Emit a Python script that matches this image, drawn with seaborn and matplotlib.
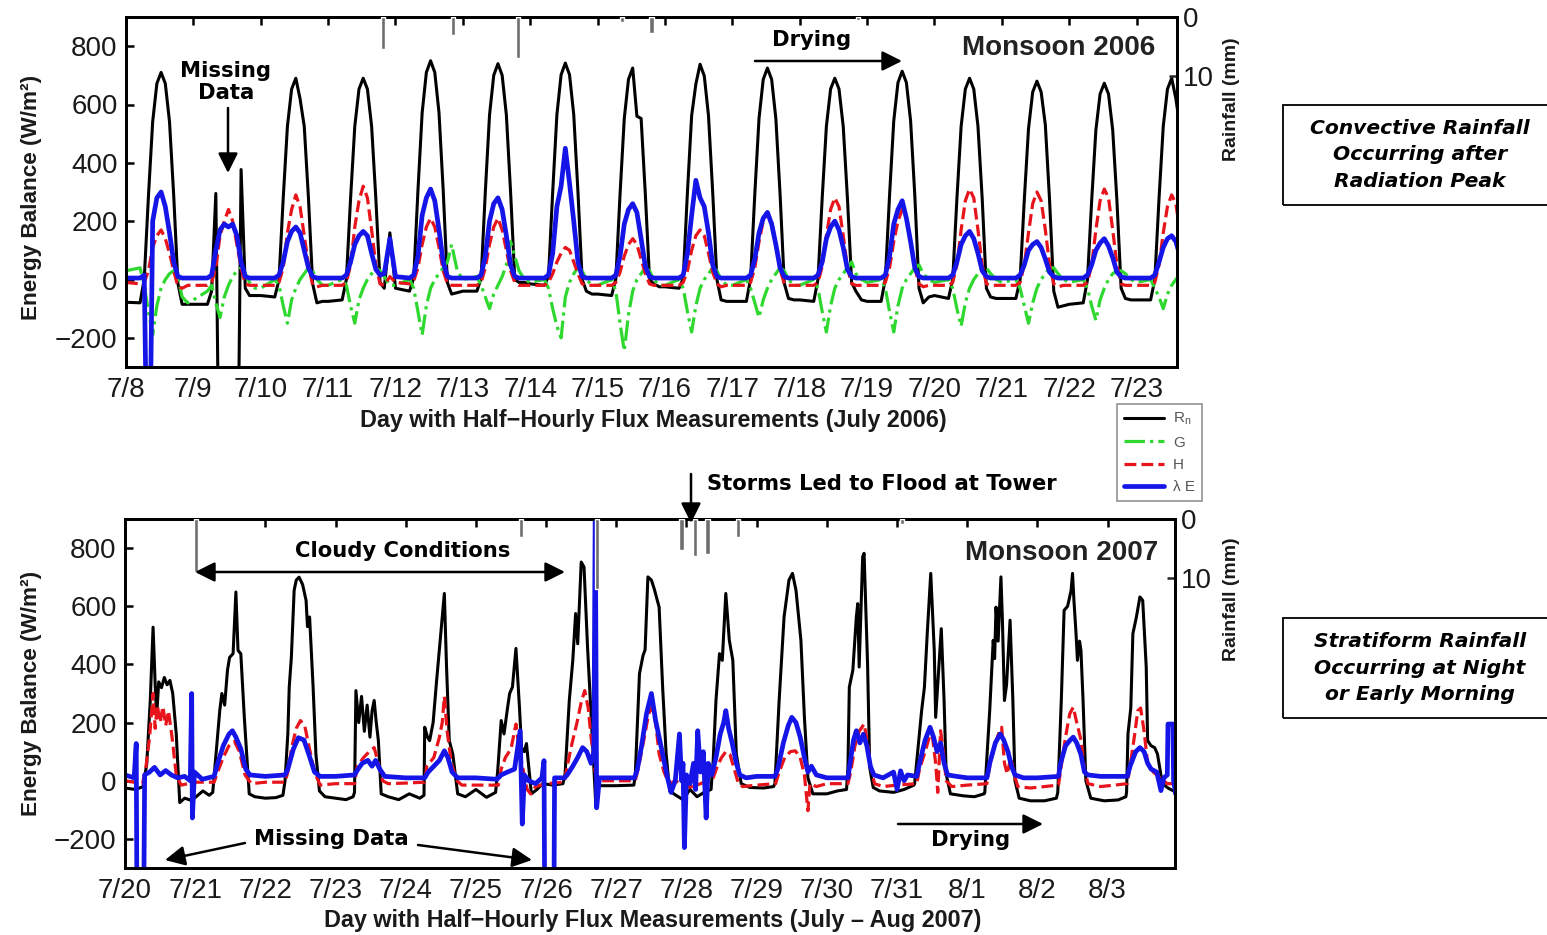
import matplotlib
matplotlib.use("Agg")
import matplotlib.pyplot as plt
from matplotlib.lines import Line2D
from matplotlib.patches import Rectangle, FancyArrowPatch
import pandas as pd
import seaborn as sns

# ------------------------------------------------------------------ data
# 2006 panel: values sampled at fixed local hours for each day (from 7/8)
HOURS06 = [0, 5, 6.5, 8, 9.5, 11, 12.5, 14, 15.5, 17, 18.5, 20, 22]
DATES06 = ['7/8', '7/9', '7/10', '7/11', '7/12', '7/13', '7/14', '7/15',
           '7/16', '7/17', '7/18', '7/19', '7/20', '7/21', '7/22', '7/23']
# -999 = flux-tower missing-data flag (drawn off scale, as in the original)

RN06 = [
    [-78, -80, 2, 287, 541, 672, 710, 672, 541, 287, -14, -85, -85],
    [-85, -85, -40, 295, -999, -999, -999, -999, -999, 377, -30, -55, -55],
    [-55, -60, 0, 278, 525, 653, 690, 620, 525, 278, -15, -80, -75],
    [-75, -70, 0, 278, 525, 653, 690, 653, 525, 278, -10, -30, 160],
    [-30, -40, 5, 305, 572, 710, 750, 710, 572, 305, -11, -50, -45],
    [-40, -40, 4, 300, 564, 700, 740, 700, 564, 300, 0, -10, -10],
    [-15, -20, 10, 300, 565, 702, 742, 702, 565, 300, 0, -40, -50],
    [-50, -55, 3, 293, 552, 686, 725, 560, 552, 293, 0, -15, -25],
    [-25, -30, 4, 299, 562, 670, 738, 698, 562, 299, 0, -70, -75],
    [-75, -75, 3, 293, 552, 686, 725, 686, 552, 293, -13, -65, -70],
    [-70, -75, 0, 278, 525, 653, 690, 653, 525, 278, -10, -40, -70],
    [-75, -75, 2, 288, 544, 675, 714, 675, 544, 288, -30, -80, -60],
    [-55, -65, 0, 278, 525, 653, 690, 653, 525, 278, -30, -60, -65],
    [-65, -65, -1, 273, 517, 643, 680, 643, 530, 273, -40, -95, -90],
    [-85, -80, -1, 270, 512, 636, 673, 636, 512, 270, -30, -65, -70],
    [-70, -70, 0, 278, 525, 653, 690, 620, 520, 278, -20, -60, -60],
]
G06 = [
    [30, 40, -20, -110, -190, -90, -30, 0, 20, 30, 10, -60, -80],
    [-70, -40, -20, -80, -130, -60, -20, 10, 30, 40, 20, -10, -30],
    [-30, 0, -20, -90, -150, -70, -30, 0, 20, 40, 30, 0, -20],
    [-20, 0, -20, -90, -150, -70, -30, 0, 20, 40, 30, 10, -20],
    [-20, 0, -30, -110, -190, -90, -30, 0, 20, 40, 60, 120, 30],
    [0, 10, -20, -60, -100, -50, -20, 10, 50, 130, 80, 30, 0],
    [-10, 0, -30, -100, -160, -200, -60, -10, 20, 40, 30, 0, -20],
    [-20, 0, -40, -150, -245, -120, -40, 0, 20, 40, 30, 0, -20],
    [-20, 0, -30, -110, -180, -90, -30, 0, 20, 40, 30, 0, -20],
    [-20, 0, -30, -80, -130, -70, -30, 0, 20, 40, 30, 0, -20],
    [-20, 0, -30, -110, -180, -90, -30, 0, 20, 40, 60, 20, 0],
    [-10, 0, -30, -110, -180, -90, -30, 0, 20, 40, 50, 20, 0],
    [-10, 0, -30, -100, -160, -80, -30, 0, 20, 40, 40, 20, 0],
    [-10, 0, -30, -90, -150, -80, -30, 0, 20, 40, 40, 20, 0],
    [-10, 0, -30, -90, -140, -70, -30, 0, 20, 30, 30, 20, 0],
    [-10, 0, -30, -60, -100, -50, -20, 0, 20, 30, 30, 20, 0],
]
H06 = [
    [-10, -15, -10, 30, 110, 150, 170, 140, 90, 30, -25, -30, -20],
    [-20, -20, -10, 40, 150, 200, 240, 200, 120, 40, -15, -20, -20],
    [-20, -20, -10, 40, 160, 240, 290, 250, 150, 50, -20, -25, -20],
    [-20, -20, -10, 50, 180, 270, 320, 280, 170, 50, -15, -20, 10],
    [-10, -15, -5, 40, 120, 180, 210, 180, 110, 30, -15, -20, -20],
    [-20, -20, -10, 40, 120, 180, 210, 170, 100, 30, -10, -20, -20],
    [-20, -20, -10, 20, 60, 90, 110, 100, 60, 20, -15, -20, -20],
    [-20, -20, -10, 25, 80, 120, 140, 120, 70, 20, -15, -20, -20],
    [-20, -20, -10, 30, 100, 150, 170, 150, 90, 25, -15, -25, -20],
    [-20, -20, -10, 40, 130, 200, 230, 200, 120, 35, -15, -20, -20],
    [-20, -20, -10, 45, 150, 240, 280, 250, 150, 40, -15, -20, -20],
    [-20, -20, -10, 40, 130, 200, 240, 210, 130, 40, -15, -25, -20],
    [-20, -20, -10, 50, 170, 270, 310, 280, 170, 50, -15, -20, -20],
    [-20, -20, -10, 50, 160, 260, 300, 270, 170, 50, -15, -25, -20],
    [-20, -20, -10, 50, 170, 270, 310, 280, 170, 50, -15, -20, -20],
    [-20, -20, -10, 50, 160, 250, 290, 260, 160, 50, -15, -20, -20],
]
LE06 = [
    [5, 5, 15, -999, 200, 280, 300, 250, 160, 60, 10, 5, 5],
    [5, 5, 15, 100, 170, 190, 180, 190, 150, 60, 10, 5, 5],
    [5, 5, 15, 60, 130, 165, 180, 160, 100, 40, 10, 5, 5],
    [5, 5, 15, 60, 120, 150, 165, 150, 90, 35, 15, 20, 140],
    [10, 5, 15, 80, 220, 280, 310, 270, 170, 60, 10, 5, 5],
    [5, 5, 15, 80, 200, 260, 280, 240, 150, 50, 10, 5, 5],
    [5, 5, 15, 90, 250, 320, 450, 330, 200, 60, 10, 5, 5],
    [5, 5, 15, 80, 190, 240, 260, 230, 140, 45, 10, 5, 5],
    [5, 5, 15, 90, 220, 340, 280, 250, 160, 50, 10, 5, 5],
    [5, 5, 15, 70, 160, 210, 230, 190, 120, 40, 10, 5, 5],
    [5, 5, 15, 60, 140, 180, 200, 170, 110, 35, 10, 5, 5],
    [5, 5, 15, 80, 190, 240, 270, 210, 130, 40, 10, 5, 5],
    [5, 5, 15, 60, 120, 150, 165, 140, 90, 30, 10, 5, 5],
    [5, 5, 15, 50, 100, 120, 130, 110, 70, 25, 10, 5, 5],
    [5, 5, 15, 50, 100, 125, 140, 115, 75, 25, 10, 5, 5],
    [5, 5, 15, 60, 110, 140, 150, 130, 80, 30, 10, 5, 5],
]
RAIN06_DAY = [3.81, 4.85, 5.82, 7.36, 7.80, 10.86]
RAIN06_MM = [5.5, 3.0, 7.0, 0.8, 2.7, 0.5]

# 2007 panel: (day since 7/20, value) pairs
DATES07 = ['7/20', '7/21', '7/22', '7/23', '7/24', '7/25', '7/26', '7/27',
           '7/28', '7/29', '7/30', '7/31', '8/1', '8/2', '8/3']
RN07 = [
    (0.00, -25), (0.15, -30), (0.26, -20), (0.31, 59), (0.36, 276), (0.40, 528), (0.43, 330), (0.45, 217),
    (0.48, 340), (0.52, 320), (0.56, 355), (0.60, 330), (0.64, 345), (0.68, 300), (0.73, 161), (0.78, -75),
    (0.85, -60), (0.95, -68), (1.11, -35), (1.20, -50),
    (1.25, -40), (1.30, 100), (1.35, 241), (1.38, 300), (1.42, 260), (1.46, 380), (1.49, 424), (1.54, 437),
    (1.58, 649), (1.61, 448), (1.65, 437), (1.70, 218), (1.77, -45), (1.85, -55), (2.00, -60), (2.15, -58), (2.25, -50),
    (2.28, 0), (2.32, 161), (2.34, 322), (2.37, 424), (2.41, 655), (2.44, 690), (2.48, 700), (2.53, 675),
    (2.58, 620), (2.60, 530), (2.63, 563), (2.68, 322), (2.72, 92), (2.77, -35), (2.85, -55), (3.00, -60),
    (3.15, -65), (3.25, -55),
    (3.27, -40), (3.29, 310), (3.33, 200), (3.37, 290), (3.41, 170), (3.45, 260), (3.49, 150), (3.52, 240),
    (3.55, 276), (3.58, 200), (3.61, 138), (3.65, -45), (3.75, -55), (3.90, -65), (4.05, -45), (4.20, -60),
    (4.26, -50), (4.27, 184), (4.31, 150), (4.34, 138), (4.39, 200), (4.44, 345), (4.50, 506), (4.55, 644),
    (4.58, 400), (4.62, 138), (4.67, 92), (4.74, -45), (4.85, -55), (5.00, -30), (5.15, -57), (5.28, -40),
    (5.31, 34), (5.36, 207), (5.40, 161), (5.45, 250), (5.48, 300), (5.52, 322), (5.57, 455), (5.62, 253),
    (5.65, 114), (5.69, 100), (5.72, 128), (5.79, -45), (5.87, -30), (5.95, -10), (6.10, -15), (6.24, -10),
    (6.27, 23), (6.33, 276), (6.38, 414), (6.42, 575), (6.45, 471), (6.50, 752), (6.54, 735), (6.59, 460),
    (6.64, 230), (6.71, -93), (6.75, -17), (7.00, -17), (7.25, -15),
    (7.27, 20), (7.33, 368), (7.38, 430), (7.41, 450), (7.45, 701), (7.50, 690), (7.54, 660), (7.61, 597),
    (7.66, 322), (7.71, 92), (7.76, -35), (7.85, -50), (7.95, -65), (8.05, -30), (8.15, -55), (8.25, -40), (8.35, -30),
    (8.38, 69), (8.42, 276), (8.47, 437), (8.51, 414), (8.56, 644), (8.61, 483), (8.66, 414), (8.71, 92),
    (8.78, -10), (8.90, -23), (9.10, -25), (9.24, -20),
    (9.26, -10), (9.32, 276), (9.39, 563), (9.46, 690), (9.51, 713), (9.56, 655), (9.63, 483), (9.68, 218),
    (9.73, 10), (9.80, -45), (10.00, -45), (10.15, -35), (10.28, -30),
    (10.30, 46), (10.32, 322), (10.37, 380), (10.42, 563), (10.44, 609), (10.46, 391), (10.51, 770), (10.53, 782),
    (10.58, 400), (10.61, 46), (10.66, -23), (10.75, -35), (10.95, -40), (11.10, -30), (11.24, -15),
    (11.25, -10), (11.35, 241), (11.39, 322), (11.43, 506), (11.48, 713), (11.53, 448), (11.55, 218), (11.63, 523),
    (11.67, 276), (11.70, 23), (11.76, -45), (11.95, -52), (12.10, -55), (12.24, -45),
    (12.25, -40), (12.32, 241), (12.37, 483), (12.39, 420), (12.41, 597), (12.44, 480), (12.48, 701), (12.50, 560),
    (12.53, 276), (12.56, 330), (12.61, 552), (12.65, 276), (12.68, 0), (12.74, -60), (12.90, -69), (13.10, -69), (13.27, -60),
    (13.29, -40), (13.34, 276), (13.38, 586), (13.43, 600), (13.48, 655), (13.50, 713), (13.52, 620), (13.55, 506),
    (13.57, 414), (13.60, 480), (13.62, 448), (13.65, 276), (13.69, 0), (13.76, -60), (13.95, -69), (14.15, -66), (14.26, -55),
    (14.27, -40), (14.29, 161), (14.33, 250), (14.36, 506), (14.41, 563), (14.46, 632), (14.50, 620), (14.55, 391),
    (14.57, 138), (14.62, 120), (14.67, 114), (14.71, 92), (14.78, -10), (14.86, -25), (14.93, -34), (15.00, -40),
]
H07 = [
    (0.00, 0), (0.25, -10), (0.30, 50), (0.35, 150), (0.40, 300), (0.43, 180), (0.46, 260), (0.50, 200),
    (0.54, 255), (0.58, 190), (0.62, 240), (0.67, 150), (0.73, 20), (0.80, -15), (1.00, -5), (1.27, -5),
    (1.32, 30), (1.40, 80), (1.48, 120), (1.56, 135), (1.63, 100), (1.71, 20), (1.80, -10), (2.00, -5), (2.28, -5),
    (2.32, 30), (2.38, 120), (2.44, 180), (2.50, 207), (2.56, 190), (2.62, 120), (2.70, 30), (2.78, -15), (3.00, -10), (3.27, -10),
    (3.31, 50), (3.40, 80), (3.48, 100), (3.55, 114), (3.61, 60), (3.67, 0), (3.75, -10), (4.00, -8), (4.27, -5),
    (4.30, 50), (4.40, 80), (4.48, 150), (4.52, 200), (4.55, 290), (4.59, 170), (4.65, 60), (4.73, 0), (4.80, -15),
    (5.00, -15), (5.32, -15),
    (5.36, 40), (5.42, 80), (5.50, 110), (5.57, 195), (5.62, 100), (5.68, 30), (5.73, -30), (5.78, -45), (5.85, -20),
    (6.00, -10), (6.26, -5),
    (6.30, 50), (6.37, 130), (6.44, 200), (6.50, 270), (6.55, 310), (6.60, 250), (6.64, 150), (6.70, 30), (6.76, 0),
    (7.00, 0), (7.27, 0),
    (7.32, 50), (7.40, 150), (7.46, 230), (7.51, 253), (7.56, 200), (7.61, 92), (7.68, 30), (7.75, -10), (7.85, 0),
    (7.95, -23), (8.10, -20), (8.30, 0), (8.38, 10),
    (8.44, 50), (8.50, 80), (8.56, 100), (8.62, 90), (8.68, 40), (8.74, -10), (8.80, -20), (9.00, -15), (9.27, -10),
    (9.32, 30), (9.40, 80), (9.48, 100), (9.55, 103), (9.62, 80), (9.68, 20), (9.73, -103), (9.76, -10), (9.85, -20),
    (10.00, -10), (10.30, -10),
    (10.34, 30), (10.40, 120), (10.46, 170), (10.53, 195), (10.58, 130), (10.63, 40), (10.68, -10), (10.80, -20),
    (11.00, -15), (11.28, -10),
    (11.32, 40), (11.40, 100), (11.46, 150), (11.50, 160), (11.55, 60), (11.58, -40), (11.62, 172), (11.66, 100),
    (11.70, 0), (11.78, -20), (12.00, -15), (12.28, -10),
    (12.32, 50), (12.40, 130), (12.46, 170), (12.49, 184), (12.53, 60), (12.57, 23), (12.62, 80), (12.66, 30),
    (12.72, -20), (12.90, -25), (13.10, -20), (13.30, -15),
    (13.34, 50), (13.40, 150), (13.46, 230), (13.51, 253), (13.56, 200), (13.62, 140), (13.67, 40), (13.72, -10),
    (13.90, -20), (14.10, -15), (14.28, -10),
    (14.32, 50), (14.38, 150), (14.43, 241), (14.47, 250), (14.52, 170), (14.57, 60), (14.65, 30), (14.75, 10),
    (14.85, -10), (15.00, -10),
]
LE07 = [
    (0.00, 20), (0.13, 10), (0.16, 128), (0.18, -999), (0.25, -999), (0.28, 20), (0.35, 30), (0.42, 46),
    (0.50, 20), (0.58, 35), (0.66, 20), (0.75, 10), (0.85, 15), (0.93, 0), (0.95, 300), (0.96, -128),
    (0.99, 30), (1.10, 5), (1.27, 15),
    (1.32, 60), (1.40, 120), (1.48, 160), (1.53, 172), (1.58, 150), (1.65, 110), (1.72, 40), (1.78, 20), (2.00, 15), (2.28, 20),
    (2.32, 40), (2.40, 110), (2.47, 148), (2.55, 140), (2.62, 90), (2.70, 30), (2.78, 15), (3.00, 15), (3.27, 20),
    (3.32, 40), (3.38, 60), (3.46, 70), (3.52, 50), (3.57, 70), (3.63, 40), (3.70, 15), (4.00, 10), (4.27, 10),
    (4.32, 30), (4.40, 50), (4.48, 70), (4.55, 103), (4.60, 80), (4.66, 30), (4.74, 10), (5.00, 10), (5.30, 5),
    (5.36, 20), (5.45, 30), (5.55, 40), (5.63, 172), (5.66, -149), (5.69, 20), (5.75, 0), (5.85, -10), (5.94, 10),
    (5.97, 69), (5.99, -999), (6.10, -999), (6.12, 10), (6.26, 10),
    (6.30, 20), (6.38, 50), (6.45, 80), (6.52, 114), (6.58, 100), (6.64, 60), (6.68, 100), (6.70, 950), (6.72, -93),
    (6.76, 10), (7.00, 10), (7.26, 10),
    (7.30, 40), (7.36, 120), (7.43, 230), (7.50, 300), (7.56, 207), (7.61, 150), (7.66, 92), (7.72, 20), (7.78, -40),
    (7.84, 0), (7.90, 161), (7.93, 0), (7.95, 60), (7.97, -230), (8.00, 20), (8.05, -10), (8.10, 60), (8.13, -30),
    (8.16, 172), (8.20, 30), (8.24, 100), (8.28, -128), (8.31, 60), (8.36, 20),
    (8.42, 80), (8.48, 160), (8.53, 200), (8.56, 241), (8.60, 180), (8.65, 130), (8.71, 60), (8.76, 20), (8.85, 10),
    (9.00, 15), (9.26, 15),
    (9.30, 40), (9.38, 130), (9.45, 190), (9.50, 218), (9.56, 200), (9.62, 150), (9.68, 80), (9.73, 30), (9.78, 50),
    (9.85, 20), (10.00, 10), (10.30, 10),
    (10.33, 60), (10.38, 140), (10.42, 172), (10.47, 130), (10.52, 160), (10.57, 120), (10.62, 50), (10.67, 20),
    (10.80, 10), (10.95, 30), (11.00, -30), (11.05, 34), (11.10, 0), (11.15, 20), (11.28, 15),
    (11.32, 60), (11.40, 140), (11.47, 184), (11.52, 150), (11.57, 100), (11.62, 130), (11.67, 60), (11.72, 20),
    (11.85, 15), (12.00, 10), (12.28, 10),
    (12.32, 60), (12.40, 130), (12.47, 161), (12.52, 140), (12.58, 100), (12.63, 50), (12.68, 20), (12.80, 10),
    (13.00, 10), (13.30, 15),
    (13.33, 60), (13.40, 120), (13.46, 138), (13.51, 150), (13.56, 130), (13.62, 90), (13.67, 30), (13.72, 20),
    (13.90, 15), (14.10, 15), (14.28, 15),
    (14.32, 50), (14.40, 100), (14.46, 114), (14.52, 100), (14.57, 60), (14.62, 40), (14.70, 30), (14.76, -34),
    (14.80, 10), (14.85, 20), (14.86, 195), (14.93, 195), (14.94, 0), (14.97, -45), (15.00, 10),
]
RAIN07_DAY = [1.01, 5.64, 6.72, 7.93, 8.12, 8.30, 8.73, 11.07]
RAIN07_MM = [9.0, 3.0, 12.0, 5.2, 6.3, 6.0, 3.0, 0.8]

SERIES_NAMES = ['R$_n$', 'G', 'H', 'λ E']
ENERGY_TICKS = [-200, 0, 200, 400, 600, 800]
RAIN_TICKS = [0, 10]

# ------------------------------------------------------------------ style
sns.set_theme(style="white")
plt.rcParams['font.family'] = ['Liberation Sans', 'DejaVu Sans']
plt.rcParams['mathtext.fontset'] = 'custom'
plt.rcParams['mathtext.rm'] = 'Liberation Sans'
plt.rcParams['mathtext.it'] = 'Liberation Sans'

STY = {
    'Rn': dict(color='black', linestyle='-', linewidth=2.2, zorder=2),
    'G': dict(color='#2fd82f', linestyle='-.', linewidth=2.3, zorder=3),
    'H': dict(color='#e8141b', linestyle='--', linewidth=2.3, zorder=4),
    'LE': dict(color='#1515e8', linestyle='-', linewidth=3.4, zorder=5),
}
TXT = '#1a1a1a'
VERD = ['DejaVu Sans']

W, H = 1547, 935


def fx(x):
    return x / W


def fy(y):
    return 1 - y / H


def grid_series(rows):
    t, v = [], []
    for d, row in enumerate(rows):
        for h, val in zip(HOURS06, row):
            t.append(d + h / 24.0)
            v.append(val)
    return pd.DataFrame({'day': t, 'flux': v})


def pair_series(pairs):
    return pd.DataFrame({'day': [p[0] for p in pairs], 'flux': [p[1] for p in pairs]})


def draw(ax, df, key):
    s = STY[key]
    sns.lineplot(data=df, x='day', y='flux', ax=ax, estimator=None, sort=False,
                 legend=False, color=s['color'], linestyle=s['linestyle'],
                 linewidth=s['linewidth'], zorder=s['zorder'])


def style_panel(ax, xmax, labels, rain_day, rain_mm):
    ax.set_xlim(0, xmax)
    ax.set_ylim(-300, 900)
    ax.set_yticks(ENERGY_TICKS)
    ax.set_xticks(range(len(labels)))
    ax.set_xticklabels(labels)
    ax.set_xlabel('')
    ax.set_ylabel('')
    ax.tick_params(axis='both', direction='in', length=6, width=1.8, top=True, right=True,
                   labelsize=20, labelcolor=TXT, color='black')
    ax.tick_params(axis='x', pad=7)
    ax.tick_params(axis='y', pad=6)
    for sp in ax.spines.values():
        sp.set_linewidth(2.0)
        sp.set_color('black')
    ax2 = ax.twinx()
    ax2.bar(rain_day, rain_mm, width=0.06, color='#6e6e6e', align='center', zorder=6)
    ax2.set_ylim(59.5, 0)
    ax2.set_yticks(RAIN_TICKS)
    ax2.tick_params(axis='y', direction='in', length=6, width=1.8, labelsize=20,
                    labelcolor=TXT, pad=4)
    for sp in ax2.spines.values():
        sp.set_linewidth(2.0)
        sp.set_color('black')
    ax2.grid(False)
    return ax2


fig = plt.figure(figsize=(15.47, 9.35), dpi=100)
ax_a = fig.add_axes([fx(126), fy(367), (1177 - 126) / W, (367 - 17) / H])
ax_b = fig.add_axes([fx(125), fy(868), (1175 - 125) / W, (868 - 519) / H])

# ---- 2006
draw(ax_a, grid_series(RN06), 'Rn')
draw(ax_a, grid_series(G06), 'G')
draw(ax_a, grid_series(H06), 'H')
draw(ax_a, grid_series(LE06), 'LE')
style_panel(ax_a, 15.6, DATES06, RAIN06_DAY, RAIN06_MM)

# ---- 2007
draw(ax_b, pair_series(RN07), 'Rn')
draw(ax_b, pair_series(H07), 'H')
draw(ax_b, pair_series(LE07), 'LE')
style_panel(ax_b, 14.96, DATES07, RAIN07_DAY, RAIN07_MM)

# ---- axis titles
for yc in (197, 693):
    fig.text(fx(32), fy(yc), 'Energy Balance (W/m²)', rotation=90, ha='center', va='center',
             fontsize=16.2, fontweight='bold', color=TXT)
for yc in (99, 599):
    fig.text(fx(1232), fy(yc), 'Rainfall (mm)', rotation=90, ha='center', va='center',
             fontsize=14, fontweight='bold', color=TXT)
fig.text(fx(653), fy(420), 'Day with Half\u2212Hourly Flux Measurements (July 2006)',
         ha='center', va='center', fontsize=16.8, fontweight='bold', color=TXT)
fig.text(fx(653), fy(921), 'Day with Half\u2212Hourly Flux Measurements (July \u2013 Aug 2007)',
         ha='center', va='center', fontsize=16.8, fontweight='bold', color=TXT)

fig.text(fx(1155), fy(48), 'Monsoon 2006', ha='right', va='center', fontsize=20,
         fontweight='bold', color='#222222')
fig.text(fx(1158), fy(553), 'Monsoon 2007', ha='right', va='center', fontsize=20,
         fontweight='bold', color='#222222')

# ---- annotations
AKW = dict(fontsize=15.2, fontweight='bold', family=VERD, color='black')


def arrow(p0, p1, style='-|>'):
    fig.add_artist(FancyArrowPatch((fx(p0[0]), fy(p0[1])), (fx(p1[0]), fy(p1[1])),
                                   transform=fig.transFigure,
                                   arrowstyle=style + ',head_length=0.6,head_width=0.3',
                                   mutation_scale=20, color='black', lw=1.8,
                                   shrinkA=0, shrinkB=0, zorder=10))


fig.text(fx(226), fy(82), 'Missing\nData', ha='center', va='center', linespacing=1.15, **AKW)
arrow((228, 108), (228, 173))
fig.text(fx(812), fy(40), 'Drying', ha='center', va='center', **AKW)
arrow((755, 61), (902, 61))

fig.text(fx(707), fy(484), 'Storms Led to Flood at Tower', ha='left', va='center', **AKW)
arrow((691, 474), (691, 523))
fig.text(fx(403), fy(551), 'Cloudy Conditions', ha='center', va='center', **AKW)
arrow((195, 572), (565, 572), style='<|-|>')
fig.text(fx(331), fy(839), 'Missing Data', ha='center', va='center', **AKW)
arrow((245, 843), (165, 860))
arrow((418, 845), (532, 860))
fig.text(fx(971), fy(840), 'Drying', ha='center', va='center', **AKW)
arrow((898, 824), (1043, 824))

# ---- right-hand explanation boxes
for (top, bot, txt) in ((105, 205, 'Convective Rainfall\nOccurring after\nRadiation Peak'),
                        (618, 718, 'Stratiform Rainfall\nOccurring at Night\nor Early Morning')):
    fig.patches.append(Rectangle((fx(1283), fy(bot)), (1600 - 1283) / W, (bot - top) / H,
                                 transform=fig.transFigure, fill=False, edgecolor='black',
                                 linewidth=1.3))
    fig.text(fx(1420), fy((top + bot) / 2), txt, ha='center', va='center', linespacing=1.5,
             fontsize=14.6, fontweight='bold', fontstyle='italic', family=VERD, color='black')

# ---- legend
handles = [Line2D([], [], color=STY[k]['color'], linestyle=STY[k]['linestyle'],
                  linewidth=STY[k]['linewidth'])
           for k in ('Rn', 'G', 'H', 'LE')]
leg = fig.legend(handles, SERIES_NAMES, loc='upper left',
                 bbox_to_anchor=(fx(1117), fy(404)), borderaxespad=0, frameon=True,
                 fancybox=False, fontsize=11, handlelength=2.6, handletextpad=0.6,
                 labelspacing=0.55, borderpad=0.45)
leg.get_frame().set_edgecolor('#777777')
leg.get_frame().set_linewidth(1.2)
for t in leg.get_texts():
    t.set_color('#555555')

fig.savefig('out.png', dpi=100)
